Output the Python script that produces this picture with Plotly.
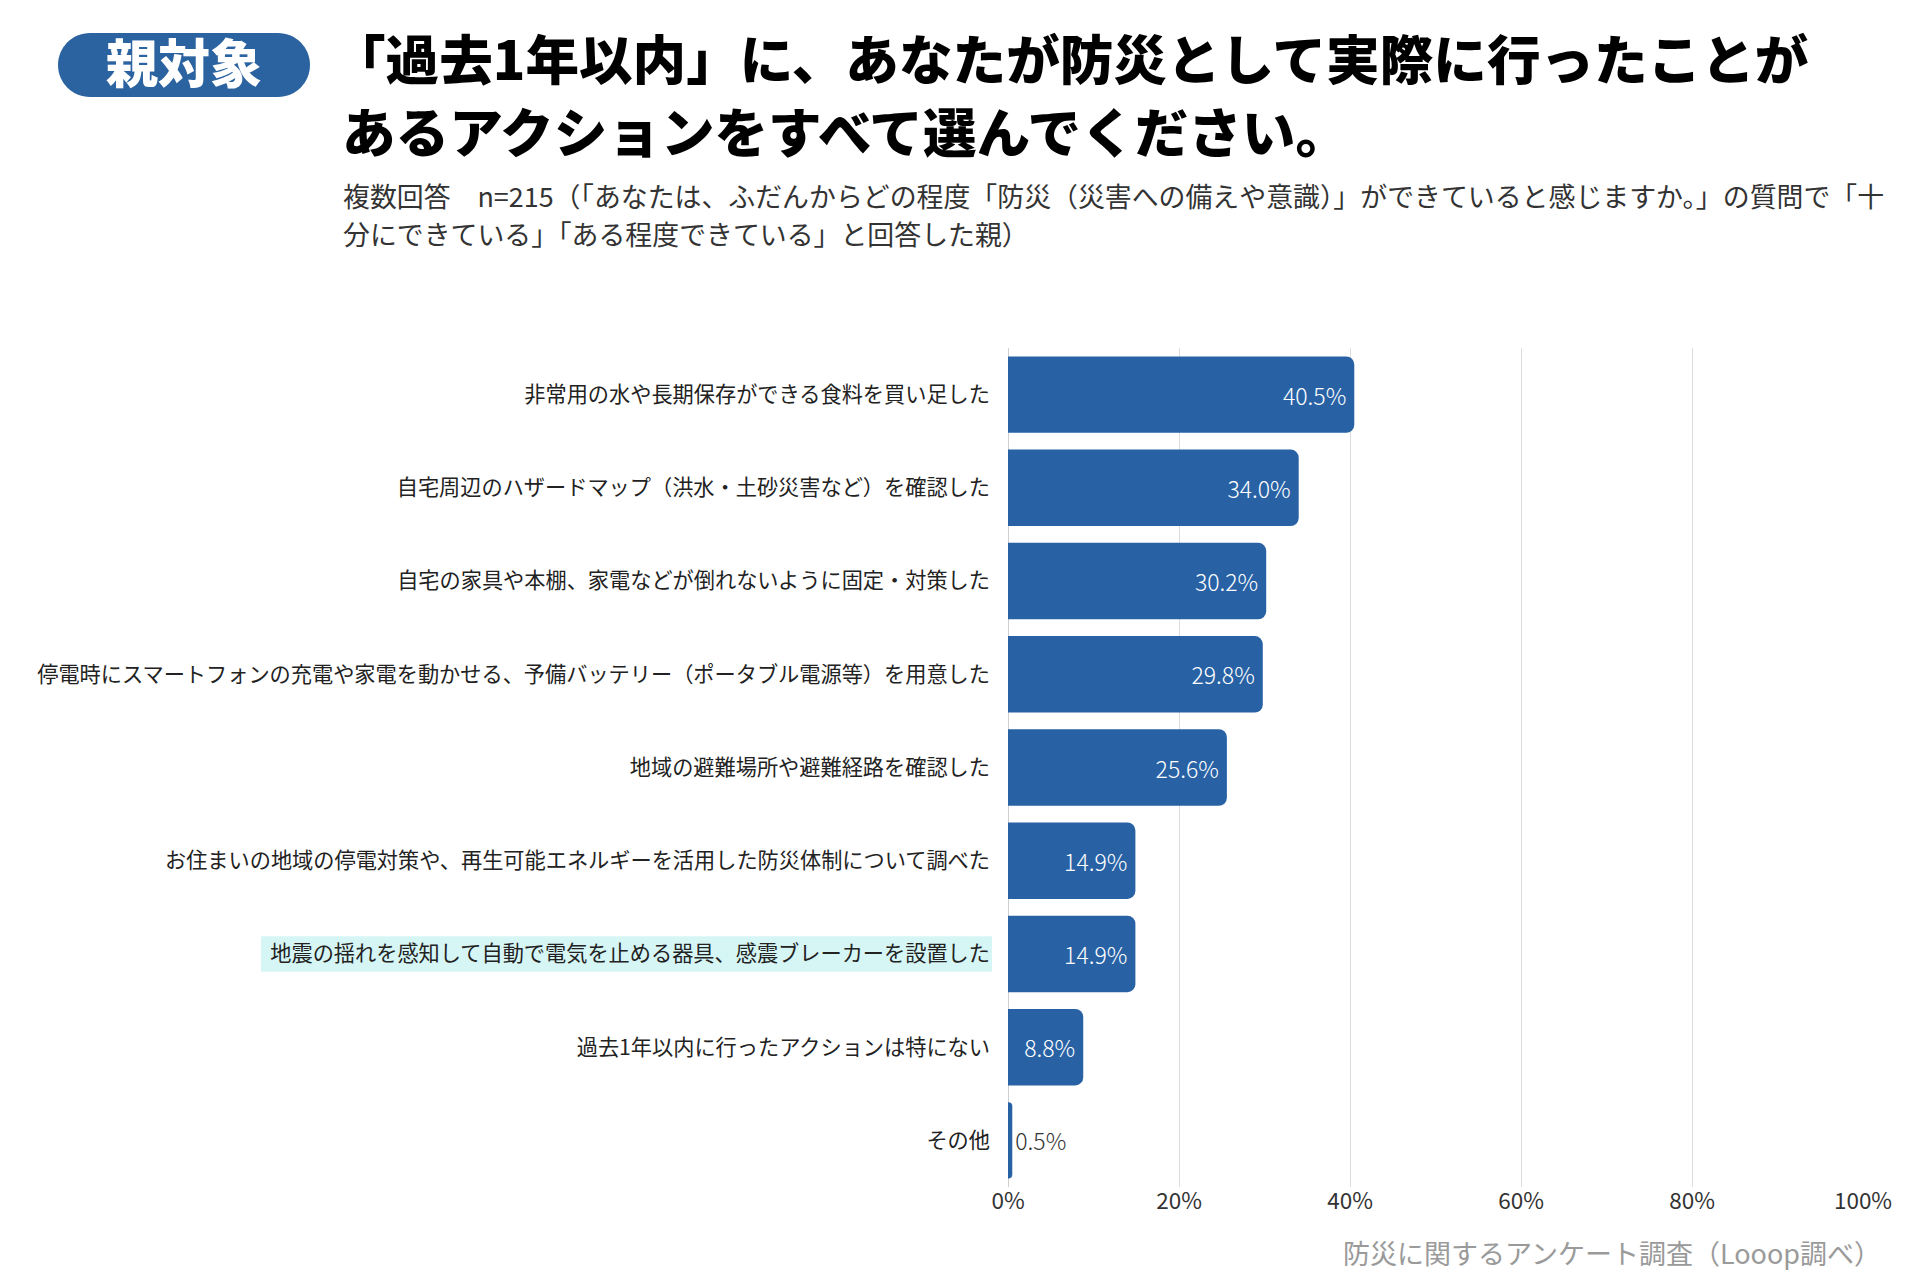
import plotly.graph_objects as go

# ---- data ----
categories = [
    "非常用の水や長期保存ができる食料を買い足した",
    "自宅周辺のハザードマップ（洪水・土砂災害など）を確認した",
    "自宅の家具や本棚、家電などが倒れないように固定・対策した",
    "停電時にスマートフォンの充電や家電を動かせる、予備バッテリー（ポータブル電源等）を用意した",
    "地域の避難場所や避難経路を確認した",
    "お住まいの地域の停電対策や、再生可能エネルギーを活用した防災体制について調べた",
    "地震の揺れを感知して自動で電気を止める器具、感震ブレーカーを設置した",
    "過去1年以内に行ったアクションは特にない",
    "その他",
]
values = [40.5, 34.0, 30.2, 29.8, 25.6, 14.9, 14.9, 8.8, 0.5]
highlighted = "地震の揺れを感知して自動で電気を止める器具、感震ブレーカーを設置した"
x_ticks = [0, 20, 40, 60, 80, 100]
x_tick_labels = ["0%", "20%", "40%", "60%", "80%", "100%"]

badge_text = "親対象"
title_lines = [
    "「過去1年以内」に、あなたが防災として実際に行ったことが",
    "あるアクションをすべて選んでください。",
]
subtitle_lines = [
    "複数回答　n=215（「あなたは、ふだんからどの程度「防災（災害への備えや意識）」ができていると感じますか。」の質問で「十",
    "分にできている」「ある程度できている」と回答した親）",
]
source_text = "防災に関するアンケート調査（Looop調べ）"

# ---- layout geometry (pixels) ----
W, H = 1920, 1280
L, R, T, B = 1008, 57, 348, 93
PW, PH = W - L - R, H - T - B


def px(x):
    return (x - L) / PW


def py(y):
    return (H - B - y) / PH


FONT = "Noto Sans CJK JP"
BAR_COLOR = "#2862A5"

textpos = ["inside" if v >= 3 else "outside" for v in values]

fig = go.Figure(
    go.Bar(
        x=values,
        y=categories,
        orientation="h",
        marker=dict(color=BAR_COLOR, line=dict(width=0)),
        texttemplate="%{x:.1f}%",
        textposition=textpos,
        insidetextanchor="end",
        insidetextfont=dict(color="white", size=23, family=FONT, weight=300),
        outsidetextfont=dict(color="#333333", size=23, family=FONT, weight=300),
        constraintext="none",
        cliponaxis=False,
        hoverinfo="skip",
    )
)

fig.update_layout(
    width=W,
    height=H,
    autosize=False,
    margin=dict(l=L, r=R, t=T, b=B, pad=0),
    paper_bgcolor="white",
    plot_bgcolor="white",
    showlegend=False,
    bargap=0.18,
    barcornerradius=8,
    font=dict(family=FONT, color="#222222"),
    xaxis=dict(
        range=[0, 100],
        tickvals=x_ticks,
        ticktext=x_tick_labels,
        showgrid=True,
        gridcolor="#dcdcdc",
        gridwidth=1,
        zeroline=True,
        zerolinecolor="#cfcfcf",
        zerolinewidth=1,
        showline=False,
        ticks="",
        ticklabelstandoff=-2,
        tickfont=dict(size=22.5, color="#333333", family=FONT),
        fixedrange=True,
    ),
    yaxis=dict(
        autorange="reversed",
        showgrid=False,
        zeroline=False,
        showline=False,
        ticks="",
        ticklabelstandoff=17,
        tickfont=dict(size=21.2, color="#222222", family=FONT),
        fixedrange=True,
    ),
)

# highlight band behind one category label
hi = categories.index(highlighted)
fig.add_shape(
    type="rect",
    xref="paper",
    yref="y",
    x0=px(261),
    x1=px(992),
    y0=hi - 0.19,
    y1=hi + 0.19,
    fillcolor="#d6f6f6",
    line=dict(width=0),
    layer="below",
)

# badge (pill)
cx, cy = 184, 65
hw, hh = 126, 32
r = hh
k = 0.5523 * r
sx = hw - r
path = (
    f"M {-sx},{-hh} L {sx},{-hh} "
    f"C {sx + k},{-hh} {hw},{-k} {hw},0 "
    f"C {hw},{k} {sx + k},{hh} {sx},{hh} "
    f"L {-sx},{hh} "
    f"C {-sx - k},{hh} {-hw},{k} {-hw},0 "
    f"C {-hw},{-k} {-sx - k},{-hh} {-sx},{-hh} Z"
)
fig.add_shape(
    type="path",
    xref="paper",
    yref="paper",
    xsizemode="pixel",
    ysizemode="pixel",
    xanchor=px(cx),
    yanchor=py(cy),
    path=path,
    fillcolor="#2B62A0",
    line=dict(width=0),
)
fig.add_annotation(
    x=px(cx), y=py(cy - 5), xref="paper", yref="paper",
    text=badge_text, showarrow=False, xanchor="center", yanchor="middle",
    font=dict(family=FONT, size=52, color="white", weight=900),
)

# title
for line, yy, xx in zip(title_lines, [57, 130], [330, 340]):
    fig.add_annotation(
        x=px(xx), y=py(yy), xref="paper", yref="paper",
        text=line, showarrow=False, xanchor="left", yanchor="middle",
        font=dict(family=FONT, size=53.6, color="#000000", weight=900),
    )

# subtitle
for line, yy in zip(subtitle_lines, [196, 233]):
    fig.add_annotation(
        x=px(341), y=py(yy), xref="paper", yref="paper",
        text=line, showarrow=False, xanchor="left", yanchor="middle",
        font=dict(family=FONT, size=26.9, color="#333333"),
    )

# source
fig.add_annotation(
    x=px(1883), y=py(1252), xref="paper", yref="paper",
    text=source_text, showarrow=False, xanchor="right", yanchor="middle",
    font=dict(family=FONT, size=27, color="#9a9a9a"),
)

fig.write_html(
    "out.html",
    config={"displayModeBar": False},
    post_script="document.body.style.margin='0';",
)
